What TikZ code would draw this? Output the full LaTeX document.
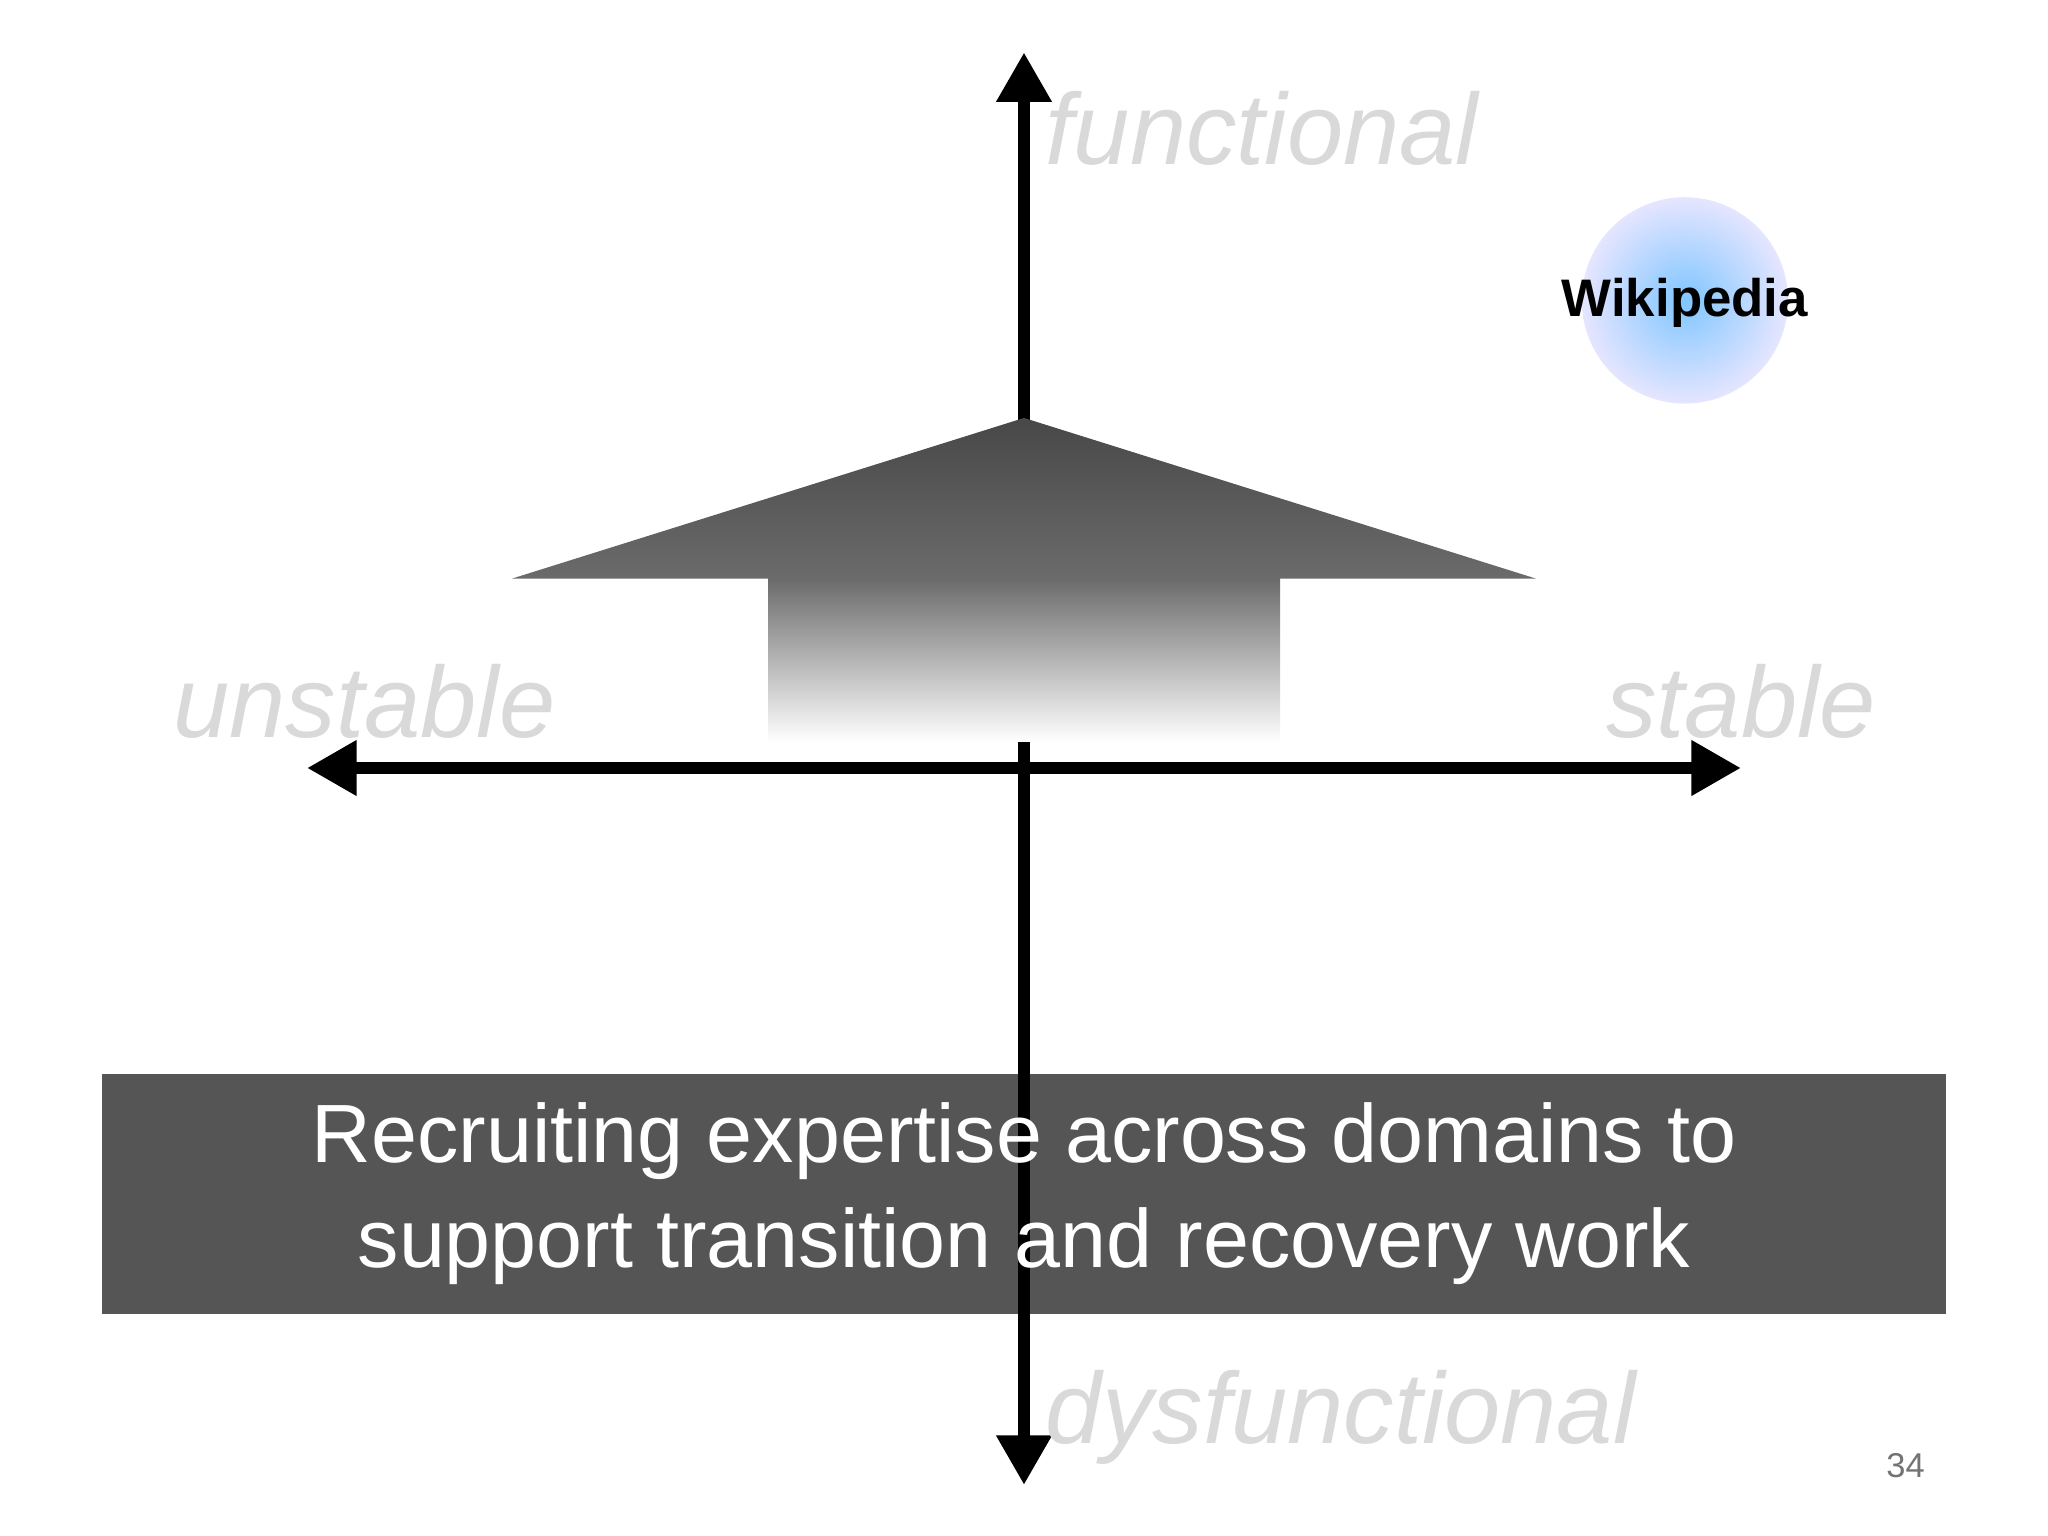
\documentclass[tikz,border=0pt]{standalone}
\usepackage{fontspec}
\setmainfont{Liberation Sans}
\usetikzlibrary{arrows.meta}
\definecolor{lbl}{HTML}{D9D9D9}
\definecolor{boxc}{HTML}{555555}
\tikzset{
  axis/.style={line width=2.8pt,-{Triangle[length=0.38cm,width=0.4cm]}},
  axlabel/.style={text=lbl,font=\fontsize{22}{26}\selectfont\itshape,inner sep=0pt}
}
\begin{document}
\begin{tikzpicture}[x=0.01cm,y=-0.01cm]
\useasboundingbox (0,0) rectangle (1568,1176);
% box
\fill[boxc] (78,822) rectangle (1490,1006);
% axes
\coordinate (top) at (784,40);
\coordinate (bot) at (784,1137);
\coordinate (left) at (235,588);
\coordinate (right) at (1333,588);
\coordinate (c) at (784,588);
\draw[axis] (c) -- (top);
\draw[axis] (c) -- (bot);
\draw[axis] (c) -- (left);
\draw[axis] (c) -- (right);
% big arrow
\shade[top color=black!72,bottom color=black!58] (784,320) -- (1176,443) -- (392,443) -- cycle;
\shade[top color=black!58,bottom color=white] (588,443) rectangle (980,568);
% labels
\node[axlabel,anchor=west] (fun) at (800,98) {functional};
\node[axlabel,anchor=west] (dys) at (800,1085) {dysfunctional};
\node[axlabel] (uns) at (279,537) {unstable};
\node[axlabel] (sta) at (1333,537) {stable};
% wikipedia
\shade[inner color=blue!45!cyan!50!white,outer color=blue!10!white] (1290,230) circle (79);
\node[font=\fontsize{11.5}{14}\selectfont\bfseries] (wiki) at (1290,232) {Wikipedia};
% box text
\node[text=white,align=center,font=\fontsize{18}{23}\selectfont] (msg) at (784,914) {Recruiting expertise across domains to\\support transition and recovery work};
\node[text=black!55,font=\fontsize{7.5}{9}\selectfont] (pg) at (1459,1122) {34};
\end{tikzpicture}
\end{document}
